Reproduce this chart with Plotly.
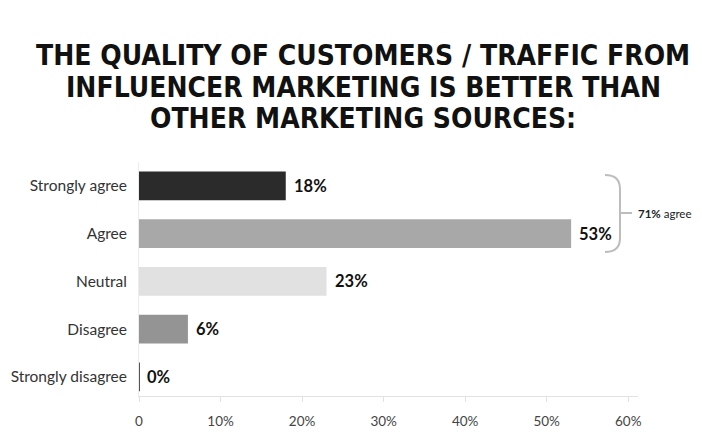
import plotly.graph_objects as go

categories = ["Strongly agree", "Agree", "Neutral", "Disagree", "Strongly disagree"]
values = [18, 53, 23, 6, 0]
bar_colors = ["#2b2b2b", "#a8a8a8", "#e1e1e1", "#949494", "#555555"]
tick_vals = [0, 10, 20, 30, 40, 50, 60]
tick_text = ["0", "10%", "20%", "30%", "40%", "50%", "60%"]
title_lines = ["THE QUALITY OF CUSTOMERS / TRAFFIC FROM",
               "INFLUENCER MARKETING IS BETTER THAN",
               "OTHER MARKETING SOURCES:"]
agree_total = "71%"

XMAX = 61.2
OFF = 8  # page body margin
W, H = 702 - OFF, 432 - OFF
ML, MR, MT = 139 - OFF, 64, 162 - OFF
MB = H - (396 - OFF)
PW = W - ML - MR
PH = H - MT - MB

def px_x(p):
    return (p - OFF - ML) / PW

def px_y(p):
    return (H - MB - (p - OFF)) / PH

fig = go.Figure()
fig.add_trace(go.Bar(
    y=categories, x=values, orientation="h",
    marker=dict(color=bar_colors, line=dict(width=0)),
    width=0.6,
    hoverinfo="skip",
))

for c, v in zip(categories, values):
    fig.add_annotation(x=v, y=c, xref="x", yref="y", text=f"<b>{v}%</b>",
                       xanchor="left", yanchor="middle", xshift=6, showarrow=False,
                       font=dict(family="Lato, Open Sans, sans-serif", size=16.5, color="#111111"))

fig.update_layout(
    width=W, height=H,
    margin=dict(l=ML, r=MR, t=MT, b=MB, pad=0, autoexpand=False),
    paper_bgcolor="white", plot_bgcolor="white",
    showlegend=False,
    font=dict(family="Lato, Open Sans, sans-serif", color="#333333"),
)
fig.update_xaxes(
    range=[0, XMAX], tickvals=tick_vals, ticktext=tick_text,
    showgrid=False, zeroline=False, automargin=False,
    showline=True, linecolor="#e2e2e2", linewidth=1,
    ticks="outside", ticklen=5, tickcolor="#e2e2e2",
    ticklabelstandoff=8,
    tickfont=dict(size=13.5, color="#444444"),
)
fig.update_yaxes(
    categoryorder="array", categoryarray=categories, range=[4.4, -0.5],
    showgrid=False, zeroline=False, automargin=False,
    showline=True, linecolor="#ececec", linewidth=1,
    ticks="outside", ticklen=8, tickcolor="rgba(0,0,0,0)",
    tickfont=dict(size=15.5, color="#333333"),
)

# zero-value bar marker
fig.add_shape(type="line", xref="x", yref="y", x0=0, x1=0, y0=3.7, y1=4.3,
              line=dict(color="#555555", width=2))

# title lines
for line, yp in zip(title_lines, [55, 87, 118]):
    fig.add_annotation(text=f"<b>{line}</b>", xref="paper", yref="paper",
                       x=px_x(363), y=px_y(yp), xanchor="center", yanchor="middle",
                       showarrow=False,
                       font=dict(family="Liberation Sans Narrow, DejaVu Sans Condensed, sans-serif",
                                 size=28, color="#111111"))

# bracket
x0, x1, x2 = px_x(605), px_x(620), px_x(632)
yt, ym, yb = px_y(175), px_y(213), px_y(252)
yq1, yq2 = px_y(189), px_y(238)
path = (f"M {x0},{yt} Q {x1},{yt} {x1},{yq1} L {x1},{yq2} Q {x1},{yb} {x0},{yb} "
        f"M {x1},{ym} L {x2},{ym}")
fig.add_shape(type="path", xref="paper", yref="paper", path=path,
              line=dict(color="#bdbdbd", width=2))
fig.add_annotation(text=f"<b>{agree_total}</b> agree", xref="paper", yref="paper",
                   x=px_x(636), y=ym, xanchor="left", yanchor="middle", showarrow=False,
                   font=dict(family="Lato, Open Sans, sans-serif", size=11.5, color="#222222"))

fig.write_html("out.html")
